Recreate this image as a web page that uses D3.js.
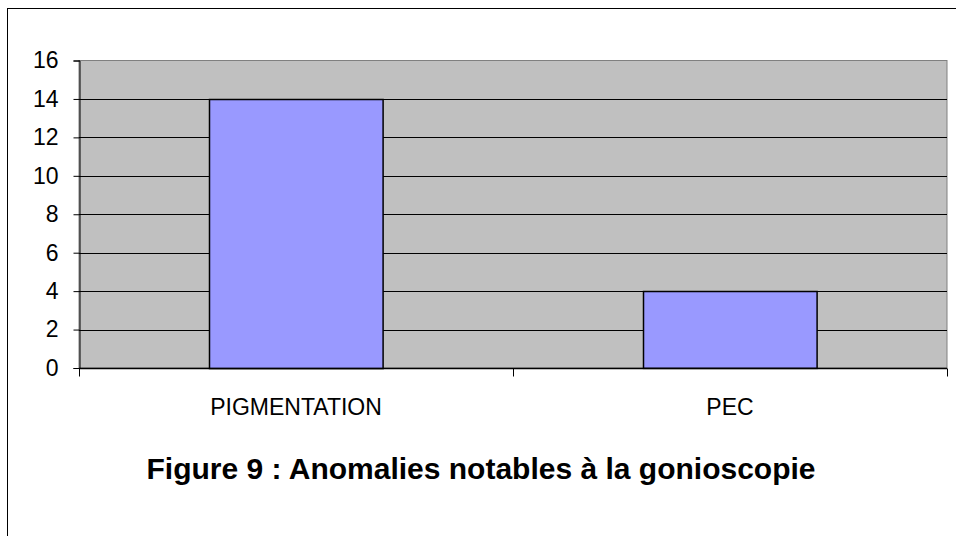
<!DOCTYPE html>
<html>
<head>
<meta charset="utf-8">
<script src="https://cdn.jsdelivr.net/npm/d3@7"></script>
<style>
  body { margin: 0; background: #fff; }
  svg { display: block; font-family: Arial, "Liberation Sans", sans-serif; }
</style>
</head>
<body>
<div id="chart"></div>
<script>
// data
var categories = ['PIGMENTATION', 'PEC'];
var values = [14, 4];
var yTicks = [0, 2, 4, 6, 8, 10, 12, 14, 16];
var title = 'Figure 9 : Anomalies notables à la gonioscopie';

var width = 956, height = 536;
var plot = { left: 79, top: 60.5, right: 947, bottom: 368 };

var svg = d3.select('#chart')
	.append('svg')
	.attr('width', width)
	.attr('height', height);

// outer frame (right and bottom run off the picture)
svg.append('rect')
	.attr('x', 7.5).attr('y', 8.5)
	.attr('width', width + 20).attr('height', height + 20)
	.attr('fill', '#fff')
	.attr('stroke', '#000');

var x = d3.scaleBand()
	.domain(categories)
	.range([plot.left, plot.right])
	.paddingInner(0.6)
	.paddingOuter(0.3);

var y = d3.scaleLinear()
	.domain([0, 16])
	.range([plot.bottom, plot.top]);

// plot background
svg.append('rect')
	.attr('x', plot.left).attr('y', plot.top)
	.attr('width', plot.right - plot.left)
	.attr('height', plot.bottom - plot.top)
	.attr('fill', '#c0c0c0')
	.attr('stroke', '#808080');

// grid lines
svg.append('g')
	.selectAll('line')
	.data(yTicks.filter(function (d) { return d > 0 && d < 16; }))
	.join('line')
	.attr('x1', plot.left).attr('x2', plot.right)
	.attr('y1', function (d) { return Math.round(y(d)) + 0.5; })
	.attr('y2', function (d) { return Math.round(y(d)) + 0.5; })
	.attr('stroke', '#000');

// bars
svg.append('g')
	.selectAll('rect')
	.data(values)
	.join('rect')
	.attr('x', function (d, i) { return Math.round(x(categories[i])) + 0.5; })
	.attr('y', function (d) { return Math.round(y(d)) + 0.5; })
	.attr('width', x.bandwidth())
	.attr('height', function (d) { return y(0) - y(d); })
	.attr('fill', '#9999ff')
	.attr('stroke', '#000')
	.attr('stroke-width', 1.5);

// y axis
var yAxis = svg.append('g')
	.attr('transform', 'translate(' + (plot.left + 0.5) + ',0)')
	.call(d3.axisLeft(y).tickValues(yTicks).tickSize(6).tickPadding(15));
yAxis.select('.domain').attr('stroke', '#000');
yAxis.selectAll('.tick text')
	.attr('font-size', 23)
	.attr('fill', '#000')
	.attr('font-family', 'Arial, "Liberation Sans", sans-serif');

// x axis: ticks sit between categories
var xEdges = [plot.left, (plot.left + plot.right) / 2, plot.right];
var xAxis = svg.append('g').attr('transform', 'translate(0,' + (plot.bottom + 0.5) + ')');
xAxis.append('line')
	.attr('x1', plot.left).attr('x2', plot.right)
	.attr('stroke', '#000').attr('stroke-width', 1.5);
xAxis.selectAll('line.tick')
	.data(xEdges)
	.join('line')
	.attr('class', 'tick')
	.attr('x1', function (d) { return Math.round(d) + 0.5; })
	.attr('x2', function (d) { return Math.round(d) + 0.5; })
	.attr('y1', 0).attr('y2', 8)
	.attr('stroke', '#000');
xAxis.selectAll('text')
	.data(categories)
	.join('text')
	.attr('x', function (d) { return x(d) + x.bandwidth() / 2; })
	.attr('y', 46)
	.attr('text-anchor', 'middle')
	.attr('font-size', 23)
	.text(function (d) { return d; });

// title
svg.append('text')
	.attr('x', 481)
	.attr('y', 479)
	.attr('text-anchor', 'middle')
	.attr('font-size', 30)
	.attr('font-weight', 'bold')
	.text(title);
</script>
</body>
</html>
